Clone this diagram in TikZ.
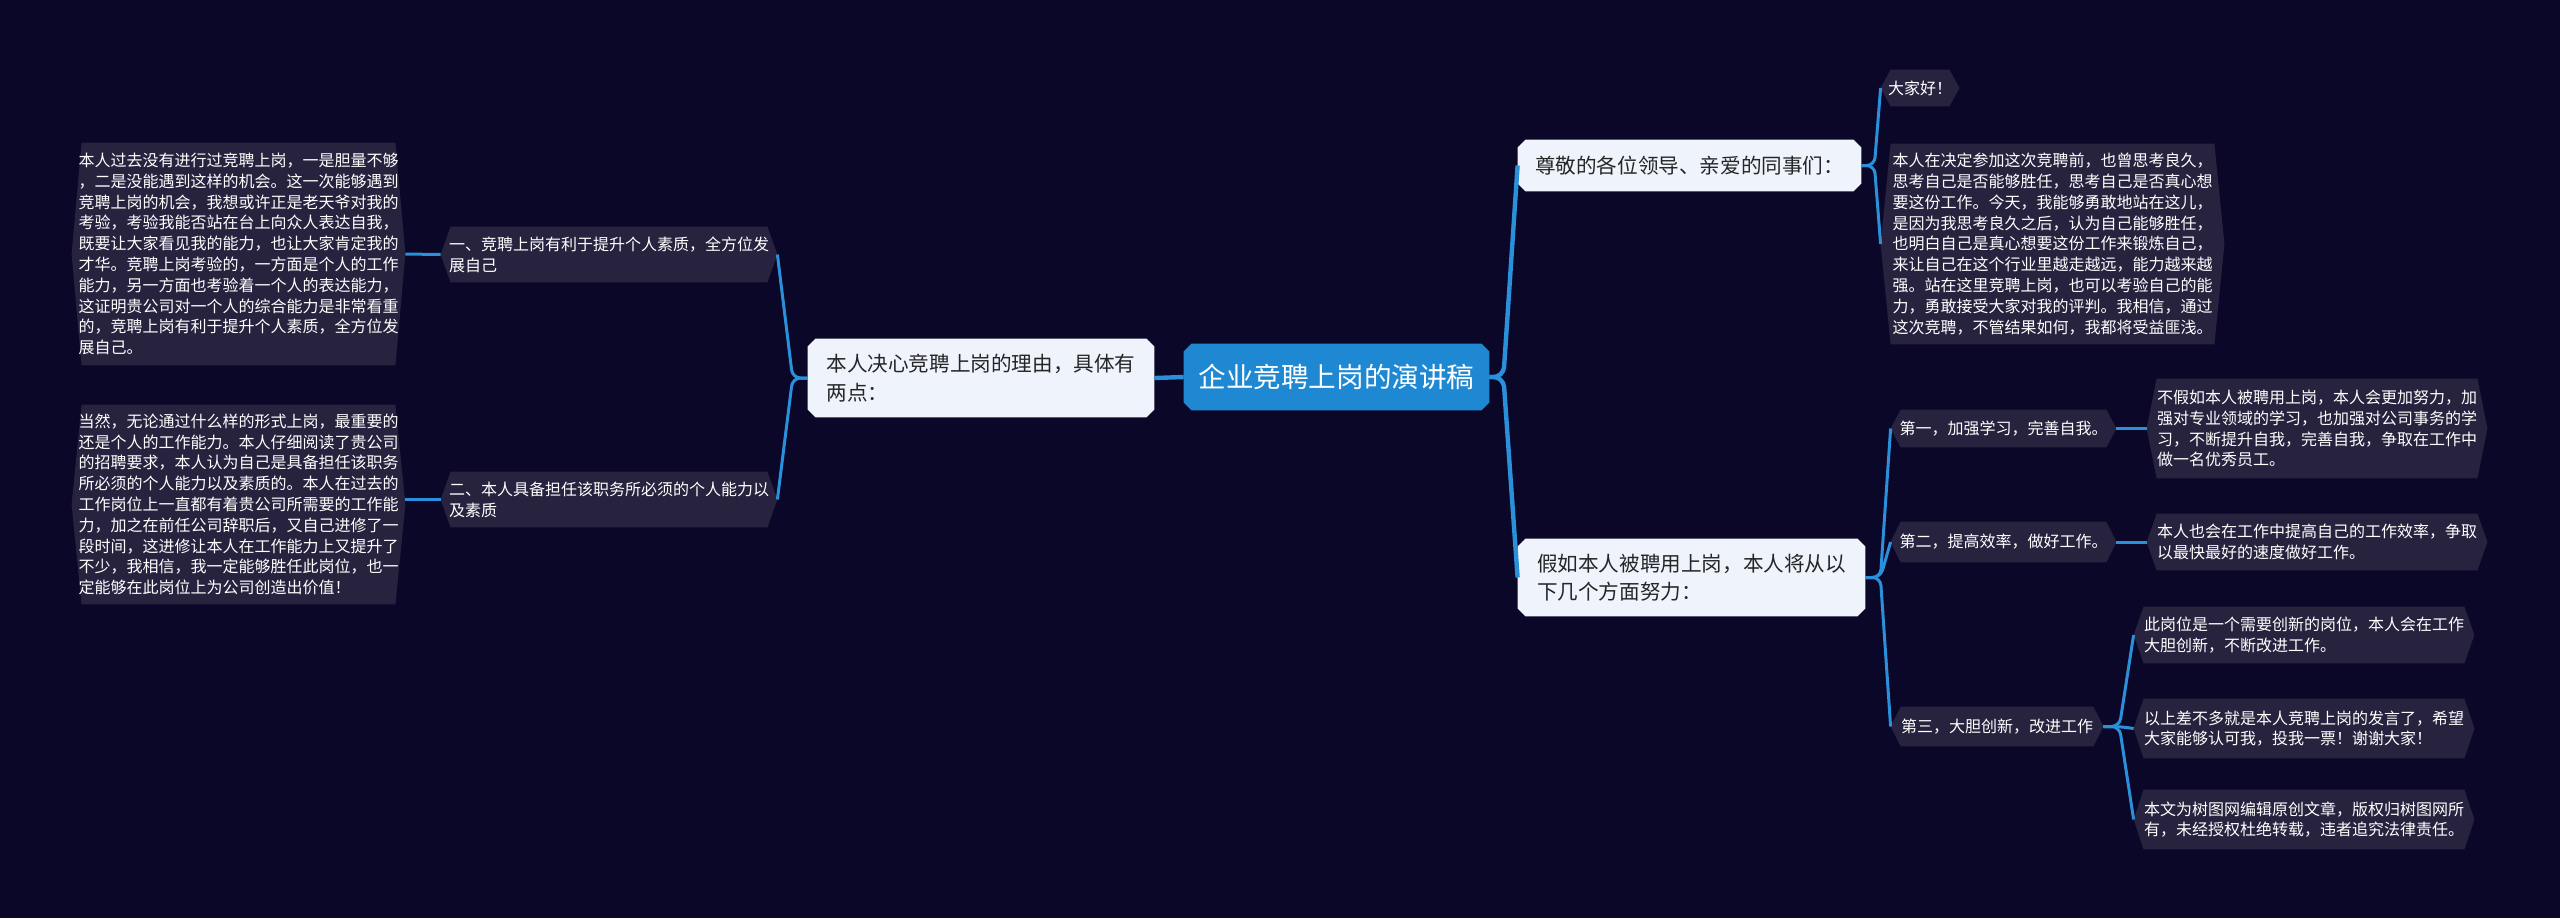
\documentclass[tikz,border=0pt]{standalone}
\usepackage{fontspec}
\newfontfamily\cjk{Noto Sans CJK SC}
\usetikzlibrary{calc}
\pgfdeclarelayer{back}
\pgfdeclarelayer{bg}
\pgfsetlayers{back,bg,main}
\definecolor{bgc}{HTML}{0B0729}
\definecolor{leaffill}{HTML}{27233F}
\definecolor{lightfill}{HTML}{EEF3FC}
\definecolor{rootfill}{HTML}{1E88D2}
\definecolor{linec}{HTML}{2A90DA}
\definecolor{darktext}{HTML}{262626}
\tikzset{
  dk/.style={inner sep=0pt, align=left, text=white, font=\cjk\fontsize{8}{10.4}\selectfont},
  lt/.style={inner sep=0pt, align=left, text=darktext, font=\cjk\fontsize{10.3}{14.2}\selectfont},
  rt/.style={inner sep=0pt, align=center, text=white, font=\cjk\fontsize{13.8}{16}\selectfont},
  conn/.style={draw=linec, line width=1.5pt, rounded corners=4pt},
  mainconn/.style={draw=linec, line width=2.2pt, rounded corners=5pt}
}
\newcommand{\hexbg}[1]{\fill[leaffill] ([xshift=5pt]#1.north west) -- ([xshift=-5pt]#1.north east) -- (#1.east) -- ([xshift=-5pt]#1.south east) -- ([xshift=5pt]#1.south west) -- (#1.west) -- cycle;}
\newcommand{\chambg}[2]{\fill[#2] ([xshift=4pt]#1.north west) -- ([xshift=-4pt]#1.north east) -- ([yshift=-4pt]#1.north east) -- ([yshift=4pt]#1.south east) -- ([xshift=-4pt]#1.south east) -- ([xshift=4pt]#1.south west) -- ([yshift=4pt]#1.south west) -- ([yshift=-4pt]#1.north west) -- cycle;}
\begin{document}
\begin{tikzpicture}[x=0.5pt,y=-0.5pt]
\begin{pgfonlayer}{back}
\fill[bgc] (0,0) rectangle (2560,918);
\end{pgfonlayer}
\useasboundingbox (0,0) rectangle (2560,918);

% root and first level
\node[rt, minimum width=152.5pt, minimum height=33pt] (root) at (1336.5,377) {企业竞聘上岗的演讲稿};
\node[lt, minimum width=173pt, minimum height=39pt] (L1) at (981,378) {本人决心竞聘上岗的理由，具体有\\两点：};
\node[lt, minimum width=171.5pt, minimum height=25.5pt] (R1) at (1689.5,165.5) {尊敬的各位领导、亲爱的同事们：};
\node[lt, minimum width=173.5pt, minimum height=38.5pt] (R2) at (1691.5,577.5) {假如本人被聘用上岗，本人将从以\\下几个方面努力：};

% left side
\node[dk, minimum width=168pt, minimum height=27.5pt] (L2a) at (609,254.5) {一、竞聘上岗有利于提升个人素质，全方位发\\展自己};
\node[dk, minimum width=168pt, minimum height=27.5pt] (L2b) at (609,499.5) {二、本人具备担任该职务所必须的个人能力以\\及素质};
\node[dk, minimum width=166.5pt, minimum height=111pt] (LA) at (238.5,254) {本人过去没有进行过竞聘上岗，一是胆量不够\\，二是没能遇到这样的机会。这一次能够遇到\\竞聘上岗的机会，我想或许正是老天爷对我的\\考验，考验我能否站在台上向众人表达自我，\\既要让大家看见我的能力，也让大家肯定我的\\才华。竞聘上岗考验的，一方面是个人的工作\\能力，另一方面也考验着一个人的表达能力，\\这证明贵公司对一个人的综合能力是非常看重\\的，竞聘上岗有利于提升个人素质，全方位发\\展自己。};
\node[dk, minimum width=166.5pt, minimum height=99.5pt] (LB) at (238.5,504.5) {当然，无论通过什么样的形式上岗，最重要的\\还是个人的工作能力。本人仔细阅读了贵公司\\的招聘要求，本人认为自己是具备担任该职务\\所必须的个人能力以及素质的。本人在过去的\\工作岗位上一直都有着贵公司所需要的工作能\\力，加之在前任公司辞职后，又自己进修了一\\段时间，这进修让本人在工作能力上又提升了\\不少，我相信，我一定能够胜任此岗位，也一\\定能够在此岗位上为公司创造出价值！};

% right side, branch 1
\node[dk, minimum width=39pt, minimum height=18pt] (R1a) at (1920,88) {大家好！};
\node[dk, minimum width=171.5pt, minimum height=100pt] (R1b) at (2052.5,244) {本人在决定参加这次竞聘前，也曾思考良久，\\思考自己是否能够胜任，思考自己是否真心想\\要这份工作。今天，我能够勇敢地站在这儿，\\是因为我思考良久之后，认为自己能够胜任，\\也明白自己是真心想要这份工作来锻炼自己，\\来让自己在这个行业里越走越远，能力越来越\\强。站在这里竞聘上岗，也可以考验自己的能\\力，勇敢接受大家对我的评判。我相信，通过\\这次竞聘，不管结果如何，我都将受益匪浅。};

% right side, branch 2
\node[dk, minimum width=112.5pt, minimum height=18.5pt] (R2a) at (2003.5,428.5) {第一，加强学习，完善自我。};
\node[dk, minimum width=112.5pt, minimum height=20pt] (R2b) at (2003.5,542) {第二，提高效率，做好工作。};
\node[dk, minimum width=106pt, minimum height=19.5pt] (R2c) at (1997,726.5) {第三，大胆创新，改进工作};
\node[dk, minimum width=170pt, minimum height=49.5pt] (R2aL) at (2317,428.5) {不假如本人被聘用上岗，本人会更加努力，加\\强对专业领域的学习，也加强对公司事务的学\\习，不断提升自我，完善自我，争取在工作中\\做一名优秀员工。};
\node[dk, minimum width=170pt, minimum height=28pt] (R2bL) at (2317,542) {本人也会在工作中提高自己的工作效率，争取\\以最快最好的速度做好工作。};
\node[dk, minimum width=170pt, minimum height=28pt] (R2cA) at (2304,635) {此岗位是一个需要创新的岗位，本人会在工作\\大胆创新，不断改进工作。};
\node[dk, minimum width=170pt, minimum height=29.5pt] (R2cB) at (2304,728.5) {以上差不多就是本人竞聘上岗的发言了，希望\\大家能够认可我，投我一票！谢谢大家！};
\node[dk, minimum width=170pt, minimum height=29.5pt] (R2cC) at (2304,819.5) {本文为树图网编辑原创文章，版权归树图网所\\有，未经授权杜绝转载，违者追究法律责任。};

\begin{pgfonlayer}{bg}
\chambg{root}{rootfill}
\chambg{L1}{lightfill}
\chambg{R1}{lightfill}
\chambg{R2}{lightfill}
\hexbg{L2a}\hexbg{L2b}\hexbg{LA}\hexbg{LB}
\hexbg{R1a}\hexbg{R1b}
\hexbg{R2a}\hexbg{R2b}\hexbg{R2c}
\hexbg{R2aL}\hexbg{R2bL}\hexbg{R2cA}\hexbg{R2cB}\hexbg{R2cC}
\end{pgfonlayer}

% junctions
\coordinate (jR) at ($(root.east)+(14,0)$);
\coordinate (jL) at ($(L1.west)+(-15,0)$);
\coordinate (j1) at ($(R1.east)+(13,0)$);
\coordinate (j2) at ($(R2.east)+(15,0)$);
\coordinate (j3) at ($(R2c.east)+(16,0)$);

% connectors
\draw[mainconn] (L1.east) -- (root.west);
\draw[mainconn] (root.east) -- (jR) -- (R1.west);
\draw[mainconn] (root.east) -- (jR) -- (R2.west);
\draw[conn] (L1.west) -- (jL) -- (L2a.east);
\draw[conn] (L1.west) -- (jL) -- (L2b.east);
\draw[conn] (L2a.west) -- (LA.east);
\draw[conn] (L2b.west) -- ($(LB.east)+(0,-5)$);
\draw[conn] (R1.east) -- (j1) -- (R1a.west);
\draw[conn] (R1.east) -- (j1) -- (R1b.west);
\draw[conn] (R2.east) -- (j2) -- (R2a.west);
\draw[conn] (R2.east) -- (j2) -- (R2b.west);
\draw[conn] (R2.east) -- (j2) -- (R2c.west);
\draw[conn] (R2a.east) -- (R2aL.west);
\draw[conn] (R2b.east) -- (R2bL.west);
\draw[conn] (R2c.east) -- (j3) -- (R2cA.west);
\draw[conn] (R2c.east) -- (j3) -- (R2cB.west);
\draw[conn] (R2c.east) -- (j3) -- (R2cC.west);
\end{tikzpicture}
\end{document}
